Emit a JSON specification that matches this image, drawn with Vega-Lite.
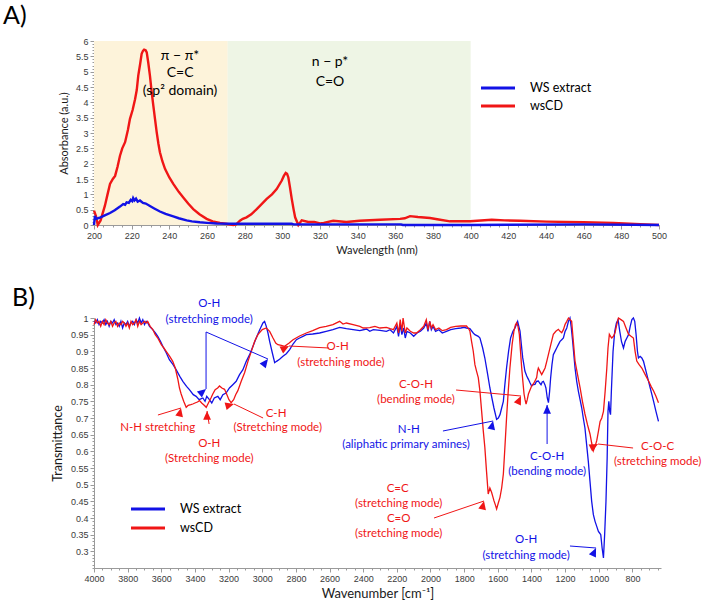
{
  "$schema": "https://vega.github.io/schema/vega-lite/v6.json",
  "padding": {"left": 3, "top": 4, "right": 5, "bottom": 2},
  "config": {
    "view": {"stroke": null},
    "font": "Lato",
    "axis": {
      "grid": false,
      "domainColor": "#9a9a9a",
      "tickColor": "#9a9a9a",
      "tickSize": 4,
      "labelFont": "Liberation Sans",
      "labelFontSize": 9,
      "labelColor": "#3a3a3a",
      "labelFlush": false,
      "labelOverlap": false,
      "titleFont": "Lato",
      "titleFontWeight": "normal",
      "titleColor": "#1a1a1a"
    }
  },
  "resolve": {"scale": {"color": "independent"}, "legend": {"color": "independent"}},
  "spacing": 31,
  "datasets": {
    "uv": [
      {"series": "wsCD", "wavelength": 200, "absorbance": 0.47},
      {"series": "wsCD", "wavelength": 201, "absorbance": 0.3},
      {"series": "wsCD", "wavelength": 202, "absorbance": 0.0},
      {"series": "wsCD", "wavelength": 203.5, "absorbance": 0.15},
      {"series": "wsCD", "wavelength": 205.8, "absorbance": 0.63},
      {"series": "wsCD", "wavelength": 207, "absorbance": 0.95},
      {"series": "wsCD", "wavelength": 208.5, "absorbance": 1.34},
      {"series": "wsCD", "wavelength": 210, "absorbance": 1.5},
      {"series": "wsCD", "wavelength": 211.2, "absorbance": 1.6},
      {"series": "wsCD", "wavelength": 212.5, "absorbance": 1.9},
      {"series": "wsCD", "wavelength": 213.8, "absorbance": 2.26},
      {"series": "wsCD", "wavelength": 215, "absorbance": 2.5},
      {"series": "wsCD", "wavelength": 216.5, "absorbance": 2.7},
      {"series": "wsCD", "wavelength": 218, "absorbance": 3.1},
      {"series": "wsCD", "wavelength": 219.1, "absorbance": 3.46},
      {"series": "wsCD", "wavelength": 220.5, "absorbance": 3.75},
      {"series": "wsCD", "wavelength": 221.8, "absorbance": 4.1},
      {"series": "wsCD", "wavelength": 222.7, "absorbance": 4.4},
      {"series": "wsCD", "wavelength": 223.5, "absorbance": 4.87},
      {"series": "wsCD", "wavelength": 224.5, "absorbance": 5.25},
      {"series": "wsCD", "wavelength": 225.3, "absorbance": 5.58},
      {"series": "wsCD", "wavelength": 226, "absorbance": 5.68},
      {"series": "wsCD", "wavelength": 226.6, "absorbance": 5.72},
      {"series": "wsCD", "wavelength": 227.4, "absorbance": 5.7},
      {"series": "wsCD", "wavelength": 228, "absorbance": 5.63},
      {"series": "wsCD", "wavelength": 228.8, "absorbance": 5.3},
      {"series": "wsCD", "wavelength": 229.7, "absorbance": 4.87},
      {"series": "wsCD", "wavelength": 230.6, "absorbance": 4.35},
      {"series": "wsCD", "wavelength": 231.5, "absorbance": 3.89},
      {"series": "wsCD", "wavelength": 232.4, "absorbance": 3.45},
      {"series": "wsCD", "wavelength": 233.3, "absorbance": 3.02},
      {"series": "wsCD", "wavelength": 234.2, "absorbance": 2.65},
      {"series": "wsCD", "wavelength": 235, "absorbance": 2.37},
      {"series": "wsCD", "wavelength": 236.3, "absorbance": 2.08},
      {"series": "wsCD", "wavelength": 237.7, "absorbance": 1.83},
      {"series": "wsCD", "wavelength": 240, "absorbance": 1.55},
      {"series": "wsCD", "wavelength": 242.1, "absorbance": 1.34},
      {"series": "wsCD", "wavelength": 245, "absorbance": 1.08},
      {"series": "wsCD", "wavelength": 247.4, "absorbance": 0.9},
      {"series": "wsCD", "wavelength": 250, "absorbance": 0.7},
      {"series": "wsCD", "wavelength": 252.7, "absorbance": 0.52},
      {"series": "wsCD", "wavelength": 256, "absorbance": 0.35},
      {"series": "wsCD", "wavelength": 259.8, "absorbance": 0.2},
      {"series": "wsCD", "wavelength": 263, "absorbance": 0.12},
      {"series": "wsCD", "wavelength": 266.9, "absorbance": 0.07},
      {"series": "wsCD", "wavelength": 270, "absorbance": 0.04},
      {"series": "wsCD", "wavelength": 274, "absorbance": 0.0},
      {"series": "wsCD", "wavelength": 275.5, "absorbance": 0.02},
      {"series": "wsCD", "wavelength": 277.5, "absorbance": 0.14},
      {"series": "wsCD", "wavelength": 279, "absorbance": 0.2},
      {"series": "wsCD", "wavelength": 281, "absorbance": 0.25},
      {"series": "wsCD", "wavelength": 283.5, "absorbance": 0.35},
      {"series": "wsCD", "wavelength": 286.4, "absorbance": 0.52},
      {"series": "wsCD", "wavelength": 289, "absorbance": 0.68},
      {"series": "wsCD", "wavelength": 291.7, "absorbance": 0.85},
      {"series": "wsCD", "wavelength": 294.5, "absorbance": 1.0},
      {"series": "wsCD", "wavelength": 297, "absorbance": 1.17},
      {"series": "wsCD", "wavelength": 299.7, "absorbance": 1.45},
      {"series": "wsCD", "wavelength": 300.8, "absorbance": 1.6},
      {"series": "wsCD", "wavelength": 301.8, "absorbance": 1.7},
      {"series": "wsCD", "wavelength": 302.5, "absorbance": 1.67},
      {"series": "wsCD", "wavelength": 303.2, "absorbance": 1.55},
      {"series": "wsCD", "wavelength": 304, "absorbance": 1.25},
      {"series": "wsCD", "wavelength": 305, "absorbance": 0.85},
      {"series": "wsCD", "wavelength": 306, "absorbance": 0.5},
      {"series": "wsCD", "wavelength": 306.8, "absorbance": 0.25},
      {"series": "wsCD", "wavelength": 308.5, "absorbance": 0.0},
      {"series": "wsCD", "wavelength": 310.3, "absorbance": 0.15},
      {"series": "wsCD", "wavelength": 313.8, "absorbance": 0.1},
      {"series": "wsCD", "wavelength": 317, "absorbance": 0.1},
      {"series": "wsCD", "wavelength": 320, "absorbance": 0.05},
      {"series": "wsCD", "wavelength": 322, "absorbance": 0.07},
      {"series": "wsCD", "wavelength": 327, "absorbance": 0.14},
      {"series": "wsCD", "wavelength": 334, "absorbance": 0.1},
      {"series": "wsCD", "wavelength": 341, "absorbance": 0.14},
      {"series": "wsCD", "wavelength": 351.9, "absorbance": 0.17},
      {"series": "wsCD", "wavelength": 362.5, "absorbance": 0.2},
      {"series": "wsCD", "wavelength": 365, "absorbance": 0.22},
      {"series": "wsCD", "wavelength": 367.8, "absorbance": 0.29},
      {"series": "wsCD", "wavelength": 372, "absorbance": 0.26},
      {"series": "wsCD", "wavelength": 378.4, "absorbance": 0.23},
      {"series": "wsCD", "wavelength": 383, "absorbance": 0.18},
      {"series": "wsCD", "wavelength": 389, "absorbance": 0.12},
      {"series": "wsCD", "wavelength": 399.7, "absorbance": 0.12},
      {"series": "wsCD", "wavelength": 411.2, "absorbance": 0.17},
      {"series": "wsCD", "wavelength": 418, "absorbance": 0.15},
      {"series": "wsCD", "wavelength": 426.2, "absorbance": 0.14},
      {"series": "wsCD", "wavelength": 440.4, "absorbance": 0.11},
      {"series": "wsCD", "wavelength": 459.9, "absorbance": 0.09},
      {"series": "wsCD", "wavelength": 475.8, "absorbance": 0.07},
      {"series": "wsCD", "wavelength": 490, "absorbance": 0.03},
      {"series": "wsCD", "wavelength": 500, "absorbance": 0.0},
      {"series": "WS extract", "wavelength": 200, "absorbance": 0.0},
      {"series": "WS extract", "wavelength": 200.5, "absorbance": 0.3},
      {"series": "WS extract", "wavelength": 201, "absorbance": 0.2},
      {"series": "WS extract", "wavelength": 203.5, "absorbance": 0.25},
      {"series": "WS extract", "wavelength": 206, "absorbance": 0.32},
      {"series": "WS extract", "wavelength": 208.5, "absorbance": 0.39},
      {"series": "WS extract", "wavelength": 211, "absorbance": 0.48},
      {"series": "WS extract", "wavelength": 213.8, "absorbance": 0.6},
      {"series": "WS extract", "wavelength": 215.5, "absorbance": 0.68},
      {"series": "WS extract", "wavelength": 216.5, "absorbance": 0.66},
      {"series": "WS extract", "wavelength": 217.3, "absorbance": 0.74},
      {"series": "WS extract", "wavelength": 218.5, "absorbance": 0.72},
      {"series": "WS extract", "wavelength": 219.5, "absorbance": 0.82},
      {"series": "WS extract", "wavelength": 220.3, "absorbance": 0.78},
      {"series": "WS extract", "wavelength": 220.8, "absorbance": 0.88},
      {"series": "WS extract", "wavelength": 221.5, "absorbance": 0.8},
      {"series": "WS extract", "wavelength": 222.3, "absorbance": 0.86},
      {"series": "WS extract", "wavelength": 223.2, "absorbance": 0.76},
      {"series": "WS extract", "wavelength": 224.4, "absorbance": 0.8},
      {"series": "WS extract", "wavelength": 226, "absorbance": 0.72},
      {"series": "WS extract", "wavelength": 227.5, "absorbance": 0.7},
      {"series": "WS extract", "wavelength": 229.7, "absorbance": 0.62},
      {"series": "WS extract", "wavelength": 232, "absorbance": 0.54},
      {"series": "WS extract", "wavelength": 235, "absorbance": 0.44},
      {"series": "WS extract", "wavelength": 238, "absorbance": 0.36},
      {"series": "WS extract", "wavelength": 242.1, "absorbance": 0.28},
      {"series": "WS extract", "wavelength": 245, "absorbance": 0.22},
      {"series": "WS extract", "wavelength": 249.2, "absorbance": 0.15},
      {"series": "WS extract", "wavelength": 252, "absorbance": 0.12},
      {"series": "WS extract", "wavelength": 256.2, "absorbance": 0.09},
      {"series": "WS extract", "wavelength": 260, "absorbance": 0.07},
      {"series": "WS extract", "wavelength": 265.1, "absorbance": 0.05},
      {"series": "WS extract", "wavelength": 274, "absorbance": 0.04},
      {"series": "WS extract", "wavelength": 290, "absorbance": 0.04},
      {"series": "WS extract", "wavelength": 305, "absorbance": 0.04},
      {"series": "WS extract", "wavelength": 306, "absorbance": 0.02},
      {"series": "WS extract", "wavelength": 330, "absorbance": 0.02},
      {"series": "WS extract", "wavelength": 363, "absorbance": 0.02},
      {"series": "WS extract", "wavelength": 364, "absorbance": 0.0},
      {"series": "WS extract", "wavelength": 400, "absorbance": 0.0},
      {"series": "WS extract", "wavelength": 420, "absorbance": 0.01},
      {"series": "WS extract", "wavelength": 460, "absorbance": 0.02},
      {"series": "WS extract", "wavelength": 500, "absorbance": 0.0}
    ],
    "uvNotes": [
      {"wavelength": 245.7, "absorbance": 5.51, "label": "π − π*"},
      {"wavelength": 245.7, "absorbance": 4.97, "label": "C=C"},
      {"wavelength": 245.7, "absorbance": 4.37, "label": "(sp² domain)"},
      {"wavelength": 325.3, "absorbance": 5.31, "label": "n − p*"},
      {"wavelength": 325.3, "absorbance": 4.66, "label": "C=O"}
    ],
    "bands": [
      {"band": "π − π*", "from": 200, "to": 271},
      {"band": "n − p*", "from": 271, "to": 400}
    ],
    "ftir": [
      {"series": "WS extract", "wavenumber": 4000, "transmittance": 0.99},
      {"series": "WS extract", "wavenumber": 3990, "transmittance": 0.985},
      {"series": "WS extract", "wavenumber": 3980, "transmittance": 0.995},
      {"series": "WS extract", "wavenumber": 3970, "transmittance": 0.98},
      {"series": "WS extract", "wavenumber": 3960, "transmittance": 0.99},
      {"series": "WS extract", "wavenumber": 3950, "transmittance": 0.985},
      {"series": "WS extract", "wavenumber": 3940, "transmittance": 0.995},
      {"series": "WS extract", "wavenumber": 3930, "transmittance": 0.98},
      {"series": "WS extract", "wavenumber": 3920, "transmittance": 0.99},
      {"series": "WS extract", "wavenumber": 3910, "transmittance": 0.975},
      {"series": "WS extract", "wavenumber": 3900, "transmittance": 0.99},
      {"series": "WS extract", "wavenumber": 3890, "transmittance": 0.985},
      {"series": "WS extract", "wavenumber": 3880, "transmittance": 0.995},
      {"series": "WS extract", "wavenumber": 3870, "transmittance": 0.98},
      {"series": "WS extract", "wavenumber": 3860, "transmittance": 0.985},
      {"series": "WS extract", "wavenumber": 3850, "transmittance": 0.975},
      {"series": "WS extract", "wavenumber": 3840, "transmittance": 0.99},
      {"series": "WS extract", "wavenumber": 3830, "transmittance": 0.97},
      {"series": "WS extract", "wavenumber": 3820, "transmittance": 0.985},
      {"series": "WS extract", "wavenumber": 3810, "transmittance": 0.98},
      {"series": "WS extract", "wavenumber": 3800, "transmittance": 0.99},
      {"series": "WS extract", "wavenumber": 3790, "transmittance": 0.975},
      {"series": "WS extract", "wavenumber": 3780, "transmittance": 0.985},
      {"series": "WS extract", "wavenumber": 3770, "transmittance": 0.99},
      {"series": "WS extract", "wavenumber": 3760, "transmittance": 0.98},
      {"series": "WS extract", "wavenumber": 3750, "transmittance": 0.995},
      {"series": "WS extract", "wavenumber": 3740, "transmittance": 0.985},
      {"series": "WS extract", "wavenumber": 3730, "transmittance": 1.0},
      {"series": "WS extract", "wavenumber": 3720, "transmittance": 0.985},
      {"series": "WS extract", "wavenumber": 3710, "transmittance": 0.995},
      {"series": "WS extract", "wavenumber": 3700, "transmittance": 0.98},
      {"series": "WS extract", "wavenumber": 3690, "transmittance": 0.99},
      {"series": "WS extract", "wavenumber": 3680, "transmittance": 0.985},
      {"series": "WS extract", "wavenumber": 3670, "transmittance": 0.975},
      {"series": "WS extract", "wavenumber": 3651, "transmittance": 0.965},
      {"series": "WS extract", "wavenumber": 3635, "transmittance": 0.955},
      {"series": "WS extract", "wavenumber": 3621, "transmittance": 0.945},
      {"series": "WS extract", "wavenumber": 3605, "transmittance": 0.93},
      {"series": "WS extract", "wavenumber": 3591, "transmittance": 0.915},
      {"series": "WS extract", "wavenumber": 3570, "transmittance": 0.895},
      {"series": "WS extract", "wavenumber": 3552, "transmittance": 0.875},
      {"series": "WS extract", "wavenumber": 3530, "transmittance": 0.86},
      {"series": "WS extract", "wavenumber": 3512, "transmittance": 0.845},
      {"series": "WS extract", "wavenumber": 3490, "transmittance": 0.825},
      {"series": "WS extract", "wavenumber": 3472, "transmittance": 0.81},
      {"series": "WS extract", "wavenumber": 3450, "transmittance": 0.795},
      {"series": "WS extract", "wavenumber": 3433, "transmittance": 0.785},
      {"series": "WS extract", "wavenumber": 3410, "transmittance": 0.77},
      {"series": "WS extract", "wavenumber": 3393, "transmittance": 0.765},
      {"series": "WS extract", "wavenumber": 3375, "transmittance": 0.755},
      {"series": "WS extract", "wavenumber": 3353, "transmittance": 0.76},
      {"series": "WS extract", "wavenumber": 3340, "transmittance": 0.75},
      {"series": "WS extract", "wavenumber": 3330, "transmittance": 0.765},
      {"series": "WS extract", "wavenumber": 3314, "transmittance": 0.755},
      {"series": "WS extract", "wavenumber": 3300, "transmittance": 0.745},
      {"series": "WS extract", "wavenumber": 3285, "transmittance": 0.76},
      {"series": "WS extract", "wavenumber": 3264, "transmittance": 0.765},
      {"series": "WS extract", "wavenumber": 3250, "transmittance": 0.755},
      {"series": "WS extract", "wavenumber": 3234, "transmittance": 0.77},
      {"series": "WS extract", "wavenumber": 3215, "transmittance": 0.775},
      {"series": "WS extract", "wavenumber": 3195, "transmittance": 0.79},
      {"series": "WS extract", "wavenumber": 3175, "transmittance": 0.8},
      {"series": "WS extract", "wavenumber": 3155, "transmittance": 0.81},
      {"series": "WS extract", "wavenumber": 3135, "transmittance": 0.83},
      {"series": "WS extract", "wavenumber": 3115, "transmittance": 0.845},
      {"series": "WS extract", "wavenumber": 3095, "transmittance": 0.87},
      {"series": "WS extract", "wavenumber": 3075, "transmittance": 0.89},
      {"series": "WS extract", "wavenumber": 3055, "transmittance": 0.915},
      {"series": "WS extract", "wavenumber": 3036, "transmittance": 0.94},
      {"series": "WS extract", "wavenumber": 3015, "transmittance": 0.965},
      {"series": "WS extract", "wavenumber": 2996, "transmittance": 0.985},
      {"series": "WS extract", "wavenumber": 2986, "transmittance": 0.99},
      {"series": "WS extract", "wavenumber": 2976, "transmittance": 0.975},
      {"series": "WS extract", "wavenumber": 2966, "transmittance": 0.955},
      {"series": "WS extract", "wavenumber": 2956, "transmittance": 0.93},
      {"series": "WS extract", "wavenumber": 2940, "transmittance": 0.895},
      {"series": "WS extract", "wavenumber": 2926, "transmittance": 0.866},
      {"series": "WS extract", "wavenumber": 2915, "transmittance": 0.87},
      {"series": "WS extract", "wavenumber": 2897, "transmittance": 0.876},
      {"series": "WS extract", "wavenumber": 2877, "transmittance": 0.885},
      {"series": "WS extract", "wavenumber": 2857, "transmittance": 0.893},
      {"series": "WS extract", "wavenumber": 2837, "transmittance": 0.905},
      {"series": "WS extract", "wavenumber": 2817, "transmittance": 0.922},
      {"series": "WS extract", "wavenumber": 2797, "transmittance": 0.935},
      {"series": "WS extract", "wavenumber": 2778, "transmittance": 0.94},
      {"series": "WS extract", "wavenumber": 2758, "transmittance": 0.945},
      {"series": "WS extract", "wavenumber": 2738, "transmittance": 0.95},
      {"series": "WS extract", "wavenumber": 2700, "transmittance": 0.952},
      {"series": "WS extract", "wavenumber": 2659, "transmittance": 0.955},
      {"series": "WS extract", "wavenumber": 2620, "transmittance": 0.96},
      {"series": "WS extract", "wavenumber": 2580, "transmittance": 0.965},
      {"series": "WS extract", "wavenumber": 2540, "transmittance": 0.972},
      {"series": "WS extract", "wavenumber": 2500, "transmittance": 0.968},
      {"series": "WS extract", "wavenumber": 2460, "transmittance": 0.965},
      {"series": "WS extract", "wavenumber": 2420, "transmittance": 0.962},
      {"series": "WS extract", "wavenumber": 2380, "transmittance": 0.967},
      {"series": "WS extract", "wavenumber": 2361, "transmittance": 0.96},
      {"series": "WS extract", "wavenumber": 2340, "transmittance": 0.965},
      {"series": "WS extract", "wavenumber": 2300, "transmittance": 0.963},
      {"series": "WS extract", "wavenumber": 2262, "transmittance": 0.96},
      {"series": "WS extract", "wavenumber": 2240, "transmittance": 0.965},
      {"series": "WS extract", "wavenumber": 2220, "transmittance": 0.955},
      {"series": "WS extract", "wavenumber": 2200, "transmittance": 0.975},
      {"series": "WS extract", "wavenumber": 2190, "transmittance": 0.945},
      {"series": "WS extract", "wavenumber": 2180, "transmittance": 0.98},
      {"series": "WS extract", "wavenumber": 2170, "transmittance": 0.95},
      {"series": "WS extract", "wavenumber": 2160, "transmittance": 0.97},
      {"series": "WS extract", "wavenumber": 2150, "transmittance": 0.94},
      {"series": "WS extract", "wavenumber": 2140, "transmittance": 0.96},
      {"series": "WS extract", "wavenumber": 2120, "transmittance": 0.955},
      {"series": "WS extract", "wavenumber": 2100, "transmittance": 0.945},
      {"series": "WS extract", "wavenumber": 2080, "transmittance": 0.955},
      {"series": "WS extract", "wavenumber": 2060, "transmittance": 0.96},
      {"series": "WS extract", "wavenumber": 2040, "transmittance": 0.97},
      {"series": "WS extract", "wavenumber": 2025, "transmittance": 0.985},
      {"series": "WS extract", "wavenumber": 2015, "transmittance": 0.96},
      {"series": "WS extract", "wavenumber": 2005, "transmittance": 0.99},
      {"series": "WS extract", "wavenumber": 1995, "transmittance": 0.965},
      {"series": "WS extract", "wavenumber": 1985, "transmittance": 0.975},
      {"series": "WS extract", "wavenumber": 1970, "transmittance": 0.96},
      {"series": "WS extract", "wavenumber": 1950, "transmittance": 0.965},
      {"series": "WS extract", "wavenumber": 1930, "transmittance": 0.955},
      {"series": "WS extract", "wavenumber": 1905, "transmittance": 0.96},
      {"series": "WS extract", "wavenumber": 1880, "transmittance": 0.965},
      {"series": "WS extract", "wavenumber": 1850, "transmittance": 0.968},
      {"series": "WS extract", "wavenumber": 1820, "transmittance": 0.97},
      {"series": "WS extract", "wavenumber": 1800, "transmittance": 0.972},
      {"series": "WS extract", "wavenumber": 1786, "transmittance": 0.97},
      {"series": "WS extract", "wavenumber": 1766, "transmittance": 0.968},
      {"series": "WS extract", "wavenumber": 1746, "transmittance": 0.955},
      {"series": "WS extract", "wavenumber": 1736, "transmittance": 0.95},
      {"series": "WS extract", "wavenumber": 1716, "transmittance": 0.945},
      {"series": "WS extract", "wavenumber": 1706, "transmittance": 0.94},
      {"series": "WS extract", "wavenumber": 1690, "transmittance": 0.91},
      {"series": "WS extract", "wavenumber": 1677, "transmittance": 0.88},
      {"series": "WS extract", "wavenumber": 1660, "transmittance": 0.83},
      {"series": "WS extract", "wavenumber": 1647, "transmittance": 0.79},
      {"series": "WS extract", "wavenumber": 1635, "transmittance": 0.76},
      {"series": "WS extract", "wavenumber": 1623, "transmittance": 0.73},
      {"series": "WS extract", "wavenumber": 1607, "transmittance": 0.696},
      {"series": "WS extract", "wavenumber": 1597, "transmittance": 0.7},
      {"series": "WS extract", "wavenumber": 1587, "transmittance": 0.71},
      {"series": "WS extract", "wavenumber": 1577, "transmittance": 0.73},
      {"series": "WS extract", "wavenumber": 1567, "transmittance": 0.75},
      {"series": "WS extract", "wavenumber": 1558, "transmittance": 0.8},
      {"series": "WS extract", "wavenumber": 1548, "transmittance": 0.85},
      {"series": "WS extract", "wavenumber": 1536, "transmittance": 0.9},
      {"series": "WS extract", "wavenumber": 1524, "transmittance": 0.94},
      {"series": "WS extract", "wavenumber": 1510, "transmittance": 0.96},
      {"series": "WS extract", "wavenumber": 1498, "transmittance": 0.97},
      {"series": "WS extract", "wavenumber": 1490, "transmittance": 0.98},
      {"series": "WS extract", "wavenumber": 1482, "transmittance": 0.99},
      {"series": "WS extract", "wavenumber": 1475, "transmittance": 0.975},
      {"series": "WS extract", "wavenumber": 1468, "transmittance": 0.961},
      {"series": "WS extract", "wavenumber": 1460, "transmittance": 0.92},
      {"series": "WS extract", "wavenumber": 1452, "transmittance": 0.881},
      {"series": "WS extract", "wavenumber": 1445, "transmittance": 0.86},
      {"series": "WS extract", "wavenumber": 1439, "transmittance": 0.841},
      {"series": "WS extract", "wavenumber": 1428, "transmittance": 0.826},
      {"series": "WS extract", "wavenumber": 1418, "transmittance": 0.816},
      {"series": "WS extract", "wavenumber": 1408, "transmittance": 0.805},
      {"series": "WS extract", "wavenumber": 1399, "transmittance": 0.796},
      {"series": "WS extract", "wavenumber": 1390, "transmittance": 0.8},
      {"series": "WS extract", "wavenumber": 1379, "transmittance": 0.801},
      {"series": "WS extract", "wavenumber": 1370, "transmittance": 0.81},
      {"series": "WS extract", "wavenumber": 1359, "transmittance": 0.811},
      {"series": "WS extract", "wavenumber": 1351, "transmittance": 0.805},
      {"series": "WS extract", "wavenumber": 1343, "transmittance": 0.8},
      {"series": "WS extract", "wavenumber": 1336, "transmittance": 0.808},
      {"series": "WS extract", "wavenumber": 1329, "transmittance": 0.81},
      {"series": "WS extract", "wavenumber": 1320, "transmittance": 0.8},
      {"series": "WS extract", "wavenumber": 1314, "transmittance": 0.79},
      {"series": "WS extract", "wavenumber": 1306, "transmittance": 0.76},
      {"series": "WS extract", "wavenumber": 1299, "transmittance": 0.746},
      {"series": "WS extract", "wavenumber": 1292, "transmittance": 0.78},
      {"series": "WS extract", "wavenumber": 1286, "transmittance": 0.82},
      {"series": "WS extract", "wavenumber": 1278, "transmittance": 0.86},
      {"series": "WS extract", "wavenumber": 1270, "transmittance": 0.89},
      {"series": "WS extract", "wavenumber": 1260, "transmittance": 0.9},
      {"series": "WS extract", "wavenumber": 1250, "transmittance": 0.91},
      {"series": "WS extract", "wavenumber": 1240, "transmittance": 0.92},
      {"series": "WS extract", "wavenumber": 1230, "transmittance": 0.93},
      {"series": "WS extract", "wavenumber": 1220, "transmittance": 0.935},
      {"series": "WS extract", "wavenumber": 1210, "transmittance": 0.94},
      {"series": "WS extract", "wavenumber": 1200, "transmittance": 0.96},
      {"series": "WS extract", "wavenumber": 1190, "transmittance": 0.97},
      {"series": "WS extract", "wavenumber": 1180, "transmittance": 0.99},
      {"series": "WS extract", "wavenumber": 1171, "transmittance": 1.0},
      {"series": "WS extract", "wavenumber": 1163, "transmittance": 0.97},
      {"series": "WS extract", "wavenumber": 1155, "transmittance": 0.93},
      {"series": "WS extract", "wavenumber": 1148, "transmittance": 0.89},
      {"series": "WS extract", "wavenumber": 1141, "transmittance": 0.85},
      {"series": "WS extract", "wavenumber": 1131, "transmittance": 0.81},
      {"series": "WS extract", "wavenumber": 1121, "transmittance": 0.78},
      {"series": "WS extract", "wavenumber": 1111, "transmittance": 0.755},
      {"series": "WS extract", "wavenumber": 1101, "transmittance": 0.73},
      {"series": "WS extract", "wavenumber": 1092, "transmittance": 0.7},
      {"series": "WS extract", "wavenumber": 1082, "transmittance": 0.67},
      {"series": "WS extract", "wavenumber": 1072, "transmittance": 0.62},
      {"series": "WS extract", "wavenumber": 1062, "transmittance": 0.57},
      {"series": "WS extract", "wavenumber": 1052, "transmittance": 0.51},
      {"series": "WS extract", "wavenumber": 1042, "transmittance": 0.45},
      {"series": "WS extract", "wavenumber": 1032, "transmittance": 0.41},
      {"series": "WS extract", "wavenumber": 1022, "transmittance": 0.39},
      {"series": "WS extract", "wavenumber": 1012, "transmittance": 0.375},
      {"series": "WS extract", "wavenumber": 1002, "transmittance": 0.36},
      {"series": "WS extract", "wavenumber": 995, "transmittance": 0.355},
      {"series": "WS extract", "wavenumber": 988, "transmittance": 0.35},
      {"series": "WS extract", "wavenumber": 980, "transmittance": 0.31},
      {"series": "WS extract", "wavenumber": 972, "transmittance": 0.28},
      {"series": "WS extract", "wavenumber": 965, "transmittance": 0.35},
      {"series": "WS extract", "wavenumber": 957, "transmittance": 0.45},
      {"series": "WS extract", "wavenumber": 950, "transmittance": 0.58},
      {"series": "WS extract", "wavenumber": 945, "transmittance": 0.72},
      {"series": "WS extract", "wavenumber": 940, "transmittance": 0.75},
      {"series": "WS extract", "wavenumber": 935, "transmittance": 0.72},
      {"series": "WS extract", "wavenumber": 930, "transmittance": 0.71},
      {"series": "WS extract", "wavenumber": 925, "transmittance": 0.78},
      {"series": "WS extract", "wavenumber": 915, "transmittance": 0.9},
      {"series": "WS extract", "wavenumber": 905, "transmittance": 0.96},
      {"series": "WS extract", "wavenumber": 895, "transmittance": 0.985},
      {"series": "WS extract", "wavenumber": 885, "transmittance": 0.995},
      {"series": "WS extract", "wavenumber": 875, "transmittance": 0.96},
      {"series": "WS extract", "wavenumber": 865, "transmittance": 0.93},
      {"series": "WS extract", "wavenumber": 853, "transmittance": 0.91},
      {"series": "WS extract", "wavenumber": 843, "transmittance": 0.93},
      {"series": "WS extract", "wavenumber": 833, "transmittance": 0.94},
      {"series": "WS extract", "wavenumber": 823, "transmittance": 0.95},
      {"series": "WS extract", "wavenumber": 813, "transmittance": 0.975},
      {"series": "WS extract", "wavenumber": 803, "transmittance": 0.995},
      {"series": "WS extract", "wavenumber": 794, "transmittance": 1.0},
      {"series": "WS extract", "wavenumber": 786, "transmittance": 0.99},
      {"series": "WS extract", "wavenumber": 778, "transmittance": 0.95},
      {"series": "WS extract", "wavenumber": 770, "transmittance": 0.9},
      {"series": "WS extract", "wavenumber": 764, "transmittance": 0.88},
      {"series": "WS extract", "wavenumber": 754, "transmittance": 0.885},
      {"series": "WS extract", "wavenumber": 744, "transmittance": 0.88},
      {"series": "WS extract", "wavenumber": 734, "transmittance": 0.87},
      {"series": "WS extract", "wavenumber": 724, "transmittance": 0.85},
      {"series": "WS extract", "wavenumber": 714, "transmittance": 0.83},
      {"series": "WS extract", "wavenumber": 704, "transmittance": 0.81},
      {"series": "WS extract", "wavenumber": 694, "transmittance": 0.79},
      {"series": "WS extract", "wavenumber": 684, "transmittance": 0.77},
      {"series": "WS extract", "wavenumber": 674, "transmittance": 0.75},
      {"series": "WS extract", "wavenumber": 660, "transmittance": 0.72},
      {"series": "WS extract", "wavenumber": 645, "transmittance": 0.69},
      {"series": "wsCD", "wavenumber": 4000, "transmittance": 0.98},
      {"series": "wsCD", "wavenumber": 3990, "transmittance": 0.995},
      {"series": "wsCD", "wavenumber": 3980, "transmittance": 0.985},
      {"series": "wsCD", "wavenumber": 3970, "transmittance": 0.99},
      {"series": "wsCD", "wavenumber": 3960, "transmittance": 0.975},
      {"series": "wsCD", "wavenumber": 3950, "transmittance": 0.99},
      {"series": "wsCD", "wavenumber": 3940, "transmittance": 0.98},
      {"series": "wsCD", "wavenumber": 3930, "transmittance": 0.995},
      {"series": "wsCD", "wavenumber": 3920, "transmittance": 0.985},
      {"series": "wsCD", "wavenumber": 3910, "transmittance": 0.98},
      {"series": "wsCD", "wavenumber": 3900, "transmittance": 0.99},
      {"series": "wsCD", "wavenumber": 3890, "transmittance": 0.975},
      {"series": "wsCD", "wavenumber": 3880, "transmittance": 0.985},
      {"series": "wsCD", "wavenumber": 3870, "transmittance": 0.99},
      {"series": "wsCD", "wavenumber": 3860, "transmittance": 0.975},
      {"series": "wsCD", "wavenumber": 3850, "transmittance": 0.985},
      {"series": "wsCD", "wavenumber": 3840, "transmittance": 0.98},
      {"series": "wsCD", "wavenumber": 3830, "transmittance": 0.99},
      {"series": "wsCD", "wavenumber": 3820, "transmittance": 0.985},
      {"series": "wsCD", "wavenumber": 3810, "transmittance": 0.975},
      {"series": "wsCD", "wavenumber": 3800, "transmittance": 0.985},
      {"series": "wsCD", "wavenumber": 3790, "transmittance": 0.97},
      {"series": "wsCD", "wavenumber": 3780, "transmittance": 0.99},
      {"series": "wsCD", "wavenumber": 3770, "transmittance": 0.98},
      {"series": "wsCD", "wavenumber": 3760, "transmittance": 0.985},
      {"series": "wsCD", "wavenumber": 3750, "transmittance": 0.995},
      {"series": "wsCD", "wavenumber": 3740, "transmittance": 0.975},
      {"series": "wsCD", "wavenumber": 3730, "transmittance": 0.99},
      {"series": "wsCD", "wavenumber": 3720, "transmittance": 0.98},
      {"series": "wsCD", "wavenumber": 3710, "transmittance": 0.985},
      {"series": "wsCD", "wavenumber": 3700, "transmittance": 0.99},
      {"series": "wsCD", "wavenumber": 3690, "transmittance": 0.985},
      {"series": "wsCD", "wavenumber": 3681, "transmittance": 0.99},
      {"series": "wsCD", "wavenumber": 3666, "transmittance": 0.975},
      {"series": "wsCD", "wavenumber": 3651, "transmittance": 0.966},
      {"series": "wsCD", "wavenumber": 3636, "transmittance": 0.95},
      {"series": "wsCD", "wavenumber": 3621, "transmittance": 0.94},
      {"series": "wsCD", "wavenumber": 3600, "transmittance": 0.92},
      {"series": "wsCD", "wavenumber": 3585, "transmittance": 0.91},
      {"series": "wsCD", "wavenumber": 3571, "transmittance": 0.9},
      {"series": "wsCD", "wavenumber": 3550, "transmittance": 0.885},
      {"series": "wsCD", "wavenumber": 3532, "transmittance": 0.87},
      {"series": "wsCD", "wavenumber": 3517, "transmittance": 0.85},
      {"series": "wsCD", "wavenumber": 3502, "transmittance": 0.817},
      {"series": "wsCD", "wavenumber": 3492, "transmittance": 0.79},
      {"series": "wsCD", "wavenumber": 3482, "transmittance": 0.772},
      {"series": "wsCD", "wavenumber": 3467, "transmittance": 0.75},
      {"series": "wsCD", "wavenumber": 3452, "transmittance": 0.732},
      {"series": "wsCD", "wavenumber": 3440, "transmittance": 0.738},
      {"series": "wsCD", "wavenumber": 3425, "transmittance": 0.74},
      {"series": "wsCD", "wavenumber": 3413, "transmittance": 0.742},
      {"series": "wsCD", "wavenumber": 3400, "transmittance": 0.745},
      {"series": "wsCD", "wavenumber": 3385, "transmittance": 0.748},
      {"series": "wsCD", "wavenumber": 3373, "transmittance": 0.752},
      {"series": "wsCD", "wavenumber": 3360, "transmittance": 0.745},
      {"series": "wsCD", "wavenumber": 3345, "transmittance": 0.738},
      {"series": "wsCD", "wavenumber": 3333, "transmittance": 0.732},
      {"series": "wsCD", "wavenumber": 3320, "transmittance": 0.745},
      {"series": "wsCD", "wavenumber": 3305, "transmittance": 0.76},
      {"series": "wsCD", "wavenumber": 3294, "transmittance": 0.772},
      {"series": "wsCD", "wavenumber": 3280, "transmittance": 0.785},
      {"series": "wsCD", "wavenumber": 3265, "transmittance": 0.79},
      {"series": "wsCD", "wavenumber": 3254, "transmittance": 0.796},
      {"series": "wsCD", "wavenumber": 3240, "transmittance": 0.79},
      {"series": "wsCD", "wavenumber": 3224, "transmittance": 0.786},
      {"series": "wsCD", "wavenumber": 3210, "transmittance": 0.77},
      {"series": "wsCD", "wavenumber": 3198, "transmittance": 0.755},
      {"series": "wsCD", "wavenumber": 3185, "transmittance": 0.746},
      {"series": "wsCD", "wavenumber": 3170, "transmittance": 0.755},
      {"series": "wsCD", "wavenumber": 3158, "transmittance": 0.77},
      {"series": "wsCD", "wavenumber": 3145, "transmittance": 0.782},
      {"series": "wsCD", "wavenumber": 3125, "transmittance": 0.81},
      {"series": "wsCD", "wavenumber": 3105, "transmittance": 0.836},
      {"series": "wsCD", "wavenumber": 3085, "transmittance": 0.87},
      {"series": "wsCD", "wavenumber": 3065, "transmittance": 0.9},
      {"series": "wsCD", "wavenumber": 3045, "transmittance": 0.93},
      {"series": "wsCD", "wavenumber": 3026, "transmittance": 0.95},
      {"series": "wsCD", "wavenumber": 3000, "transmittance": 0.965},
      {"series": "wsCD", "wavenumber": 2976, "transmittance": 0.97},
      {"series": "wsCD", "wavenumber": 2956, "transmittance": 0.96},
      {"series": "wsCD", "wavenumber": 2936, "transmittance": 0.94},
      {"series": "wsCD", "wavenumber": 2920, "transmittance": 0.925},
      {"series": "wsCD", "wavenumber": 2907, "transmittance": 0.92},
      {"series": "wsCD", "wavenumber": 2887, "transmittance": 0.918},
      {"series": "wsCD", "wavenumber": 2867, "transmittance": 0.915},
      {"series": "wsCD", "wavenumber": 2840, "transmittance": 0.925},
      {"series": "wsCD", "wavenumber": 2817, "transmittance": 0.935},
      {"series": "wsCD", "wavenumber": 2778, "transmittance": 0.946},
      {"series": "wsCD", "wavenumber": 2738, "transmittance": 0.955},
      {"series": "wsCD", "wavenumber": 2700, "transmittance": 0.962},
      {"series": "wsCD", "wavenumber": 2659, "transmittance": 0.971},
      {"series": "wsCD", "wavenumber": 2620, "transmittance": 0.975},
      {"series": "wsCD", "wavenumber": 2580, "transmittance": 0.98},
      {"series": "wsCD", "wavenumber": 2540, "transmittance": 0.99},
      {"series": "wsCD", "wavenumber": 2520, "transmittance": 0.982},
      {"series": "wsCD", "wavenumber": 2500, "transmittance": 0.985},
      {"series": "wsCD", "wavenumber": 2460, "transmittance": 0.98},
      {"series": "wsCD", "wavenumber": 2420, "transmittance": 0.975},
      {"series": "wsCD", "wavenumber": 2400, "transmittance": 0.97},
      {"series": "wsCD", "wavenumber": 2361, "transmittance": 0.971},
      {"series": "wsCD", "wavenumber": 2330, "transmittance": 0.975},
      {"series": "wsCD", "wavenumber": 2300, "transmittance": 0.97},
      {"series": "wsCD", "wavenumber": 2262, "transmittance": 0.972},
      {"series": "wsCD", "wavenumber": 2240, "transmittance": 0.968},
      {"series": "wsCD", "wavenumber": 2220, "transmittance": 0.965},
      {"series": "wsCD", "wavenumber": 2200, "transmittance": 0.985},
      {"series": "wsCD", "wavenumber": 2190, "transmittance": 0.955},
      {"series": "wsCD", "wavenumber": 2180, "transmittance": 0.995},
      {"series": "wsCD", "wavenumber": 2170, "transmittance": 0.96},
      {"series": "wsCD", "wavenumber": 2163, "transmittance": 1.0},
      {"series": "wsCD", "wavenumber": 2150, "transmittance": 0.955},
      {"series": "wsCD", "wavenumber": 2140, "transmittance": 0.97},
      {"series": "wsCD", "wavenumber": 2120, "transmittance": 0.96},
      {"series": "wsCD", "wavenumber": 2100, "transmittance": 0.955},
      {"series": "wsCD", "wavenumber": 2083, "transmittance": 0.955},
      {"series": "wsCD", "wavenumber": 2060, "transmittance": 0.965},
      {"series": "wsCD", "wavenumber": 2040, "transmittance": 0.975},
      {"series": "wsCD", "wavenumber": 2025, "transmittance": 0.995},
      {"series": "wsCD", "wavenumber": 2015, "transmittance": 0.965},
      {"series": "wsCD", "wavenumber": 2004, "transmittance": 0.99},
      {"series": "wsCD", "wavenumber": 1995, "transmittance": 0.97},
      {"series": "wsCD", "wavenumber": 1985, "transmittance": 0.98},
      {"series": "wsCD", "wavenumber": 1970, "transmittance": 0.965},
      {"series": "wsCD", "wavenumber": 1950, "transmittance": 0.97},
      {"series": "wsCD", "wavenumber": 1930, "transmittance": 0.962},
      {"series": "wsCD", "wavenumber": 1905, "transmittance": 0.965},
      {"series": "wsCD", "wavenumber": 1880, "transmittance": 0.972},
      {"series": "wsCD", "wavenumber": 1850, "transmittance": 0.975},
      {"series": "wsCD", "wavenumber": 1820, "transmittance": 0.976},
      {"series": "wsCD", "wavenumber": 1800, "transmittance": 0.976},
      {"series": "wsCD", "wavenumber": 1786, "transmittance": 0.976},
      {"series": "wsCD", "wavenumber": 1776, "transmittance": 0.97},
      {"series": "wsCD", "wavenumber": 1766, "transmittance": 0.961},
      {"series": "wsCD", "wavenumber": 1756, "transmittance": 0.93},
      {"series": "wsCD", "wavenumber": 1746, "transmittance": 0.901},
      {"series": "wsCD", "wavenumber": 1736, "transmittance": 0.86},
      {"series": "wsCD", "wavenumber": 1726, "transmittance": 0.84},
      {"series": "wsCD", "wavenumber": 1716, "transmittance": 0.821},
      {"series": "wsCD", "wavenumber": 1706, "transmittance": 0.78},
      {"series": "wsCD", "wavenumber": 1696, "transmittance": 0.72},
      {"series": "wsCD", "wavenumber": 1686, "transmittance": 0.66},
      {"series": "wsCD", "wavenumber": 1677, "transmittance": 0.612},
      {"series": "wsCD", "wavenumber": 1667, "transmittance": 0.54},
      {"series": "wsCD", "wavenumber": 1657, "transmittance": 0.472},
      {"series": "wsCD", "wavenumber": 1647, "transmittance": 0.49},
      {"series": "wsCD", "wavenumber": 1637, "transmittance": 0.477},
      {"series": "wsCD", "wavenumber": 1630, "transmittance": 0.465},
      {"series": "wsCD", "wavenumber": 1623, "transmittance": 0.452},
      {"series": "wsCD", "wavenumber": 1615, "transmittance": 0.44},
      {"series": "wsCD", "wavenumber": 1607, "transmittance": 0.427},
      {"series": "wsCD", "wavenumber": 1597, "transmittance": 0.445},
      {"series": "wsCD", "wavenumber": 1587, "transmittance": 0.462},
      {"series": "wsCD", "wavenumber": 1577, "transmittance": 0.49},
      {"series": "wsCD", "wavenumber": 1567, "transmittance": 0.532},
      {"series": "wsCD", "wavenumber": 1558, "transmittance": 0.61},
      {"series": "wsCD", "wavenumber": 1548, "transmittance": 0.7},
      {"series": "wsCD", "wavenumber": 1538, "transmittance": 0.78},
      {"series": "wsCD", "wavenumber": 1528, "transmittance": 0.85},
      {"series": "wsCD", "wavenumber": 1515, "transmittance": 0.92},
      {"series": "wsCD", "wavenumber": 1504, "transmittance": 0.961},
      {"series": "wsCD", "wavenumber": 1495, "transmittance": 0.98},
      {"series": "wsCD", "wavenumber": 1488, "transmittance": 0.986},
      {"series": "wsCD", "wavenumber": 1480, "transmittance": 0.975},
      {"series": "wsCD", "wavenumber": 1472, "transmittance": 0.951},
      {"series": "wsCD", "wavenumber": 1465, "transmittance": 0.9},
      {"series": "wsCD", "wavenumber": 1458, "transmittance": 0.85},
      {"series": "wsCD", "wavenumber": 1451, "transmittance": 0.81},
      {"series": "wsCD", "wavenumber": 1444, "transmittance": 0.772},
      {"series": "wsCD", "wavenumber": 1438, "transmittance": 0.755},
      {"series": "wsCD", "wavenumber": 1432, "transmittance": 0.742},
      {"series": "wsCD", "wavenumber": 1425, "transmittance": 0.755},
      {"series": "wsCD", "wavenumber": 1418, "transmittance": 0.772},
      {"series": "wsCD", "wavenumber": 1408, "transmittance": 0.785},
      {"series": "wsCD", "wavenumber": 1399, "transmittance": 0.796},
      {"series": "wsCD", "wavenumber": 1385, "transmittance": 0.805},
      {"series": "wsCD", "wavenumber": 1369, "transmittance": 0.821},
      {"series": "wsCD", "wavenumber": 1364, "transmittance": 0.84},
      {"series": "wsCD", "wavenumber": 1359, "transmittance": 0.85},
      {"series": "wsCD", "wavenumber": 1349, "transmittance": 0.84},
      {"series": "wsCD", "wavenumber": 1339, "transmittance": 0.83},
      {"series": "wsCD", "wavenumber": 1329, "transmittance": 0.84},
      {"series": "wsCD", "wavenumber": 1319, "transmittance": 0.85},
      {"series": "wsCD", "wavenumber": 1309, "transmittance": 0.87},
      {"series": "wsCD", "wavenumber": 1299, "transmittance": 0.891},
      {"series": "wsCD", "wavenumber": 1285, "transmittance": 0.92},
      {"series": "wsCD", "wavenumber": 1270, "transmittance": 0.951},
      {"series": "wsCD", "wavenumber": 1255, "transmittance": 0.96},
      {"series": "wsCD", "wavenumber": 1240, "transmittance": 0.966},
      {"series": "wsCD", "wavenumber": 1230, "transmittance": 0.96},
      {"series": "wsCD", "wavenumber": 1220, "transmittance": 0.956},
      {"series": "wsCD", "wavenumber": 1210, "transmittance": 0.965},
      {"series": "wsCD", "wavenumber": 1200, "transmittance": 0.981},
      {"series": "wsCD", "wavenumber": 1190, "transmittance": 0.99},
      {"series": "wsCD", "wavenumber": 1180, "transmittance": 1.0},
      {"series": "wsCD", "wavenumber": 1170, "transmittance": 0.995},
      {"series": "wsCD", "wavenumber": 1161, "transmittance": 0.99},
      {"series": "wsCD", "wavenumber": 1151, "transmittance": 0.93},
      {"series": "wsCD", "wavenumber": 1141, "transmittance": 0.871},
      {"series": "wsCD", "wavenumber": 1126, "transmittance": 0.83},
      {"series": "wsCD", "wavenumber": 1111, "transmittance": 0.791},
      {"series": "wsCD", "wavenumber": 1097, "transmittance": 0.75},
      {"series": "wsCD", "wavenumber": 1082, "transmittance": 0.712},
      {"series": "wsCD", "wavenumber": 1067, "transmittance": 0.68},
      {"series": "wsCD", "wavenumber": 1052, "transmittance": 0.652},
      {"series": "wsCD", "wavenumber": 1042, "transmittance": 0.625},
      {"series": "wsCD", "wavenumber": 1032, "transmittance": 0.602},
      {"series": "wsCD", "wavenumber": 1022, "transmittance": 0.615},
      {"series": "wsCD", "wavenumber": 1012, "transmittance": 0.632},
      {"series": "wsCD", "wavenumber": 1002, "transmittance": 0.66},
      {"series": "wsCD", "wavenumber": 992, "transmittance": 0.69},
      {"series": "wsCD", "wavenumber": 982, "transmittance": 0.7},
      {"series": "wsCD", "wavenumber": 972, "transmittance": 0.72},
      {"series": "wsCD", "wavenumber": 962, "transmittance": 0.78},
      {"series": "wsCD", "wavenumber": 952, "transmittance": 0.85},
      {"series": "wsCD", "wavenumber": 945, "transmittance": 0.91},
      {"series": "wsCD", "wavenumber": 937, "transmittance": 0.951},
      {"series": "wsCD", "wavenumber": 930, "transmittance": 0.945},
      {"series": "wsCD", "wavenumber": 923, "transmittance": 0.94},
      {"series": "wsCD", "wavenumber": 913, "transmittance": 0.945},
      {"series": "wsCD", "wavenumber": 903, "transmittance": 0.956},
      {"series": "wsCD", "wavenumber": 893, "transmittance": 0.98},
      {"series": "wsCD", "wavenumber": 883, "transmittance": 1.0},
      {"series": "wsCD", "wavenumber": 868, "transmittance": 0.995},
      {"series": "wsCD", "wavenumber": 853, "transmittance": 0.99},
      {"series": "wsCD", "wavenumber": 838, "transmittance": 0.97},
      {"series": "wsCD", "wavenumber": 823, "transmittance": 0.951},
      {"series": "wsCD", "wavenumber": 808, "transmittance": 0.945},
      {"series": "wsCD", "wavenumber": 794, "transmittance": 0.94},
      {"series": "wsCD", "wavenumber": 784, "transmittance": 0.9},
      {"series": "wsCD", "wavenumber": 774, "transmittance": 0.871},
      {"series": "wsCD", "wavenumber": 760, "transmittance": 0.86},
      {"series": "wsCD", "wavenumber": 744, "transmittance": 0.85},
      {"series": "wsCD", "wavenumber": 724, "transmittance": 0.83},
      {"series": "wsCD", "wavenumber": 704, "transmittance": 0.811},
      {"series": "wsCD", "wavenumber": 689, "transmittance": 0.795},
      {"series": "wsCD", "wavenumber": 674, "transmittance": 0.781},
      {"series": "wsCD", "wavenumber": 660, "transmittance": 0.765},
      {"series": "wsCD", "wavenumber": 645, "transmittance": 0.746}
    ],
    "ftirNotes": [
      {"series": "WS extract", "wavenumber": 3315, "transmittance": 1.041, "label": "O-H"},
      {"series": "WS extract", "wavenumber": 3315, "transmittance": 0.993, "label": "(stretching mode)"},
      {"series": "WS extract", "wavenumber": 2129, "transmittance": 0.663, "label": "N-H"},
      {"series": "WS extract", "wavenumber": 2145, "transmittance": 0.619, "label": "(aliphatic primary amines)"},
      {"series": "WS extract", "wavenumber": 1307, "transmittance": 0.583, "label": "C-O-H"},
      {"series": "WS extract", "wavenumber": 1307, "transmittance": 0.538, "label": "(bending mode)"},
      {"series": "WS extract", "wavenumber": 1432, "transmittance": 0.333, "label": "O-H"},
      {"series": "WS extract", "wavenumber": 1432, "transmittance": 0.286, "label": "(stretching mode)"},
      {"series": "wsCD", "wavenumber": 2552, "transmittance": 0.913, "label": "O-H"},
      {"series": "wsCD", "wavenumber": 2532, "transmittance": 0.865, "label": "(stretching mode)"},
      {"series": "wsCD", "wavenumber": 3621, "transmittance": 0.669, "label": "N-H stretching"},
      {"series": "wsCD", "wavenumber": 3315, "transmittance": 0.623, "label": "O-H"},
      {"series": "wsCD", "wavenumber": 3315, "transmittance": 0.578, "label": "(Stretching mode)"},
      {"series": "wsCD", "wavenumber": 2918, "transmittance": 0.711, "label": "C-H"},
      {"series": "wsCD", "wavenumber": 2908, "transmittance": 0.669, "label": "(Stretching mode)"},
      {"series": "wsCD", "wavenumber": 2086, "transmittance": 0.798, "label": "C-O-H"},
      {"series": "wsCD", "wavenumber": 2086, "transmittance": 0.753, "label": "(bending mode)"},
      {"series": "wsCD", "wavenumber": 2195, "transmittance": 0.486, "label": "C=C"},
      {"series": "wsCD", "wavenumber": 2189, "transmittance": 0.441, "label": "(stretching mode)"},
      {"series": "wsCD", "wavenumber": 2189, "transmittance": 0.396, "label": "C=O"},
      {"series": "wsCD", "wavenumber": 2189, "transmittance": 0.351, "label": "(stretching mode)"},
      {"series": "wsCD", "wavenumber": 650, "transmittance": 0.613, "label": "C-O-C"},
      {"series": "wsCD", "wavenumber": 650, "transmittance": 0.569, "label": "(stretching mode)"}
    ],
    "ftirArrows": [
      {"series": "WS extract", "from_wn": 3334, "from_t": 0.958, "to_wn": 3334, "to_t": 0.787, "points": "down"},
      {"series": "WS extract", "from_wn": 3334, "from_t": 0.958, "to_wn": 2966, "to_t": 0.877, "points": "down-right"},
      {"series": "WS extract", "from_wn": 1926, "from_t": 0.661, "to_wn": 1628, "to_t": 0.691, "points": "right-up"},
      {"series": "WS extract", "from_wn": 1307, "from_t": 0.622, "to_wn": 1307, "to_t": 0.739, "points": "up"},
      {"series": "WS extract", "from_wn": 1171, "from_t": 0.316, "to_wn": 1016, "to_t": 0.31, "points": "right"},
      {"series": "wsCD", "from_wn": 2603, "from_t": 0.91, "to_wn": 2841, "to_t": 0.916, "points": "left"},
      {"series": "wsCD", "from_wn": 3620, "from_t": 0.709, "to_wn": 3483, "to_t": 0.73, "points": "right-up"},
      {"series": "wsCD", "from_wn": 3316, "from_t": 0.682, "to_wn": 3328, "to_t": 0.721, "points": "up"},
      {"series": "wsCD", "from_wn": 2995, "from_t": 0.7, "to_wn": 3168, "to_t": 0.742, "points": "left-up"},
      {"series": "wsCD", "from_wn": 1848, "from_t": 0.784, "to_wn": 1462, "to_t": 0.766, "points": "right"},
      {"series": "wsCD", "from_wn": 1979, "from_t": 0.4, "to_wn": 1682, "to_t": 0.451, "points": "right-up"},
      {"series": "wsCD", "from_wn": 796, "from_t": 0.61, "to_wn": 1004, "to_t": 0.622, "points": "left"}
    ]
  },
  "vconcat": [
    {
      "width": 565,
      "height": 184,
      "title": {"text": "A)", "anchor": "start", "frame": "group", "font": "Lato", "fontSize": 25, "fontWeight": "normal", "color": "#000", "dx": -91, "offset": 8},
      "resolve": {"axis": {"x": "independent", "y": "independent"}},
      "layer": [
        {
          "data": {"name": "bands"},
          "transform": [{"filter": "datum.band === 'π − π*'"}],
          "mark": {"type": "rect", "color": "#fdf3da"},
          "encoding": {
            "x": {"field": "from", "type": "quantitative", "axis": null},
            "x2": {"field": "to"}
          }
        },
        {
          "data": {"name": "bands"},
          "transform": [{"filter": "datum.band === 'n − p*'"}],
          "mark": {"type": "rect", "color": "#eef5e5"},
          "encoding": {
            "x": {"field": "from", "type": "quantitative", "axis": null},
            "x2": {"field": "to"}
          }
        },
        {
          "data": {"name": "uv"},
          "mark": {"type": "line", "strokeWidth": 2.4},
          "encoding": {
            "x": {"field": "wavelength", "type": "quantitative",
                  "scale": {"domain": [200, 500], "nice": false, "zero": false},
                  "axis": {"title": "Wavelength (nm)", "titleFontSize": 11, "titlePadding": 4, "format": "d", "labelOverlap": false,
                           "values": [200,220,240,260,280,300,320,340,360,380,400,420,440,460,480,500]}},
            "y": {"field": "absorbance", "type": "quantitative",
                  "scale": {"domain": [0, 6], "nice": false},
                  "axis": {"title": "Absorbance (a.u.)", "titleFontSize": 11, "titlePadding": 6, "labelOverlap": false,
                           "values": [0,0.5,1,1.5,2,2.5,3,3.5,4,4.5,5,5.5,6], "format": "~g"}},
            "color": {"field": "series", "type": "nominal",
                      "scale": {"domain": ["WS extract", "wsCD"], "range": ["#1212e6", "#f01616"]},
                      "legend": {"orient": "none", "legendX": 394, "legendY": 37, "title": null,
                                 "symbolType": "M-2,0H2", "symbolSize": 289, "symbolStrokeWidth": 3,
                                 "labelFont": "Lato", "labelFontSize": 12.5, "labelColor": "#000",
                                 "labelOffset": 22, "rowPadding": 1}}
          }
        },
        {
          "data": {"name": "uvNotes"},
          "mark": {"type": "text", "font": "Lato", "fontSize": 14, "color": "#000"},
          "encoding": {
            "x": {"field": "wavelength", "type": "quantitative",
                  "axis": {"orient": "bottom", "title": null, "labels": false, "domain": false, "tickSize": 2,
                           "values": [200,205,210,215,220,225,230,235,240,245,250,255,260,265,270,275,280,285,290,295,300,305,310,315,320,325,330,335,340,345,350,355,360,365,370,375,380,385,390,395,400,405,410,415,420,425,430,435,440,445,450,455,460,465,470,475,480,485,490,495,500]}},
            "y": {"field": "absorbance", "type": "quantitative",
                  "axis": {"orient": "left", "title": null, "labels": false, "domain": false, "tickSize": 2,
                           "values": [0,0.1,0.2,0.3,0.4,0.5,0.6,0.7,0.8,0.9,1,1.1,1.2,1.3,1.4,1.5,1.6,1.7,1.8,1.9,2,2.1,2.2,2.3,2.4,2.5,2.6,2.7,2.8,2.9,3,3.1,3.2,3.3,3.4,3.5,3.6,3.7,3.8,3.9,4,4.1,4.2,4.3,4.4,4.5,4.6,4.7,4.8,4.9,5,5.1,5.2,5.3,5.4,5.5,5.6,5.7,5.8,5.9,6]}},
            "text": {"field": "label"}
          }
        }
      ]
    },
    {
      "width": 567,
      "height": 250,
      "title": {"text": "B)", "anchor": "start", "frame": "group", "font": "Lato", "fontSize": 25, "fontWeight": "normal", "color": "#000", "dx": -82, "offset": -13},
      "resolve": {"axis": {"x": "independent", "y": "independent"}},
      "layer": [
        {
          "data": {"name": "ftir"},
          "mark": {"type": "line", "strokeWidth": 1.3},
          "encoding": {
            "x": {"field": "wavenumber", "type": "quantitative",
                  "scale": {"domain": [4000, 630], "nice": false, "zero": false},
                  "axis": {"title": "Wavenumber [cm⁻¹]", "titleFontSize": 13, "titlePadding": 4, "format": "d", "labelOverlap": false,
                           "values": [4000,3800,3600,3400,3200,3000,2800,2600,2400,2200,2000,1800,1600,1400,1200,1000,800]}},
            "y": {"field": "transmittance", "type": "quantitative",
                  "scale": {"domain": [0.25, 1], "nice": false, "zero": false},
                  "axis": {"title": "Transmittance", "titleFontSize": 12.5, "titlePadding": 6, "labelOverlap": false,
                           "values": [0.3,0.35,0.4,0.45,0.5,0.55,0.6,0.65,0.7,0.75,0.8,0.85,0.9,0.95,1], "format": "~g"}},
            "color": {"field": "series", "type": "nominal",
                      "scale": {"domain": ["WS extract", "wsCD"], "range": ["#1212e6", "#f01616"]},
                      "legend": {"orient": "none", "legendX": 44, "legendY": 181, "title": null,
                                 "symbolType": "M-2,0H2", "symbolSize": 289, "symbolStrokeWidth": 3,
                                 "labelFont": "Lato", "labelFontSize": 12.5, "labelColor": "#000",
                                 "labelOffset": 22, "rowPadding": 2}}
          }
        },
        {
          "data": {"name": "ftirArrows"},
          "mark": {"type": "rule", "strokeWidth": 1},
          "encoding": {
            "x": {"field": "from_wn", "type": "quantitative", "axis": null},
            "y": {"field": "from_t", "type": "quantitative", "axis": null},
            "x2": {"field": "to_wn"},
            "y2": {"field": "to_t"},
            "color": {"field": "series", "type": "nominal", "legend": null}
          }
        },
        {
          "data": {"name": "ftirArrows"},
          "mark": {"type": "point", "filled": true, "opacity": 1, "shape": "M0,0L-0.45,1L0.45,1Z", "size": 300},
          "encoding": {
            "x": {"field": "to_wn", "type": "quantitative", "axis": null},
            "y": {"field": "to_t", "type": "quantitative", "axis": null},
            "angle": {"field": "points", "type": "nominal",
                      "scale": {"domain": ["up", "right-up", "right", "down-right", "down", "left", "left-up"],
                                "range": [0, 75, 92, 114, 180, 268, 296]},
                      "legend": null},
            "color": {"field": "series", "type": "nominal", "legend": null}
          }
        },
        {
          "data": {"name": "ftirNotes"},
          "mark": {"type": "text", "font": "Lato", "fontSize": 11.5},
          "encoding": {
            "x": {"field": "wavenumber", "type": "quantitative",
                  "axis": {"orient": "bottom", "title": null, "labels": false, "domain": false, "tickSize": 2,
                           "values": [4000,3950,3900,3850,3800,3750,3700,3650,3600,3550,3500,3450,3400,3350,3300,3250,3200,3150,3100,3050,3000,2950,2900,2850,2800,2750,2700,2650,2600,2550,2500,2450,2400,2350,2300,2250,2200,2150,2100,2050,2000,1950,1900,1850,1800,1750,1700,1650,1600,1550,1500,1450,1400,1350,1300,1250,1200,1150,1100,1050,1000,950,900,850,800,750,700,650]}},
            "y": {"field": "transmittance", "type": "quantitative",
                  "axis": {"orient": "left", "title": null, "labels": false, "domain": false, "tickSize": 2,
                           "values": [0.25,0.26,0.27,0.28,0.29,0.3,0.31,0.32,0.33,0.34,0.35,0.36,0.37,0.38,0.39,0.4,0.41,0.42,0.43,0.44,0.45,0.46,0.47,0.48,0.49,0.5,0.51,0.52,0.53,0.54,0.55,0.56,0.57,0.58,0.59,0.6,0.61,0.62,0.63,0.64,0.65,0.66,0.67,0.68,0.69,0.7,0.71,0.72,0.73,0.74,0.75,0.76,0.77,0.78,0.79,0.8,0.81,0.82,0.83,0.84,0.85,0.86,0.87,0.88,0.89,0.9,0.91,0.92,0.93,0.94,0.95,0.96,0.97,0.98,0.99,1]}},
            "text": {"field": "label"},
            "color": {"field": "series", "type": "nominal", "legend": null}
          }
        }
      ]
    }
  ]
}
